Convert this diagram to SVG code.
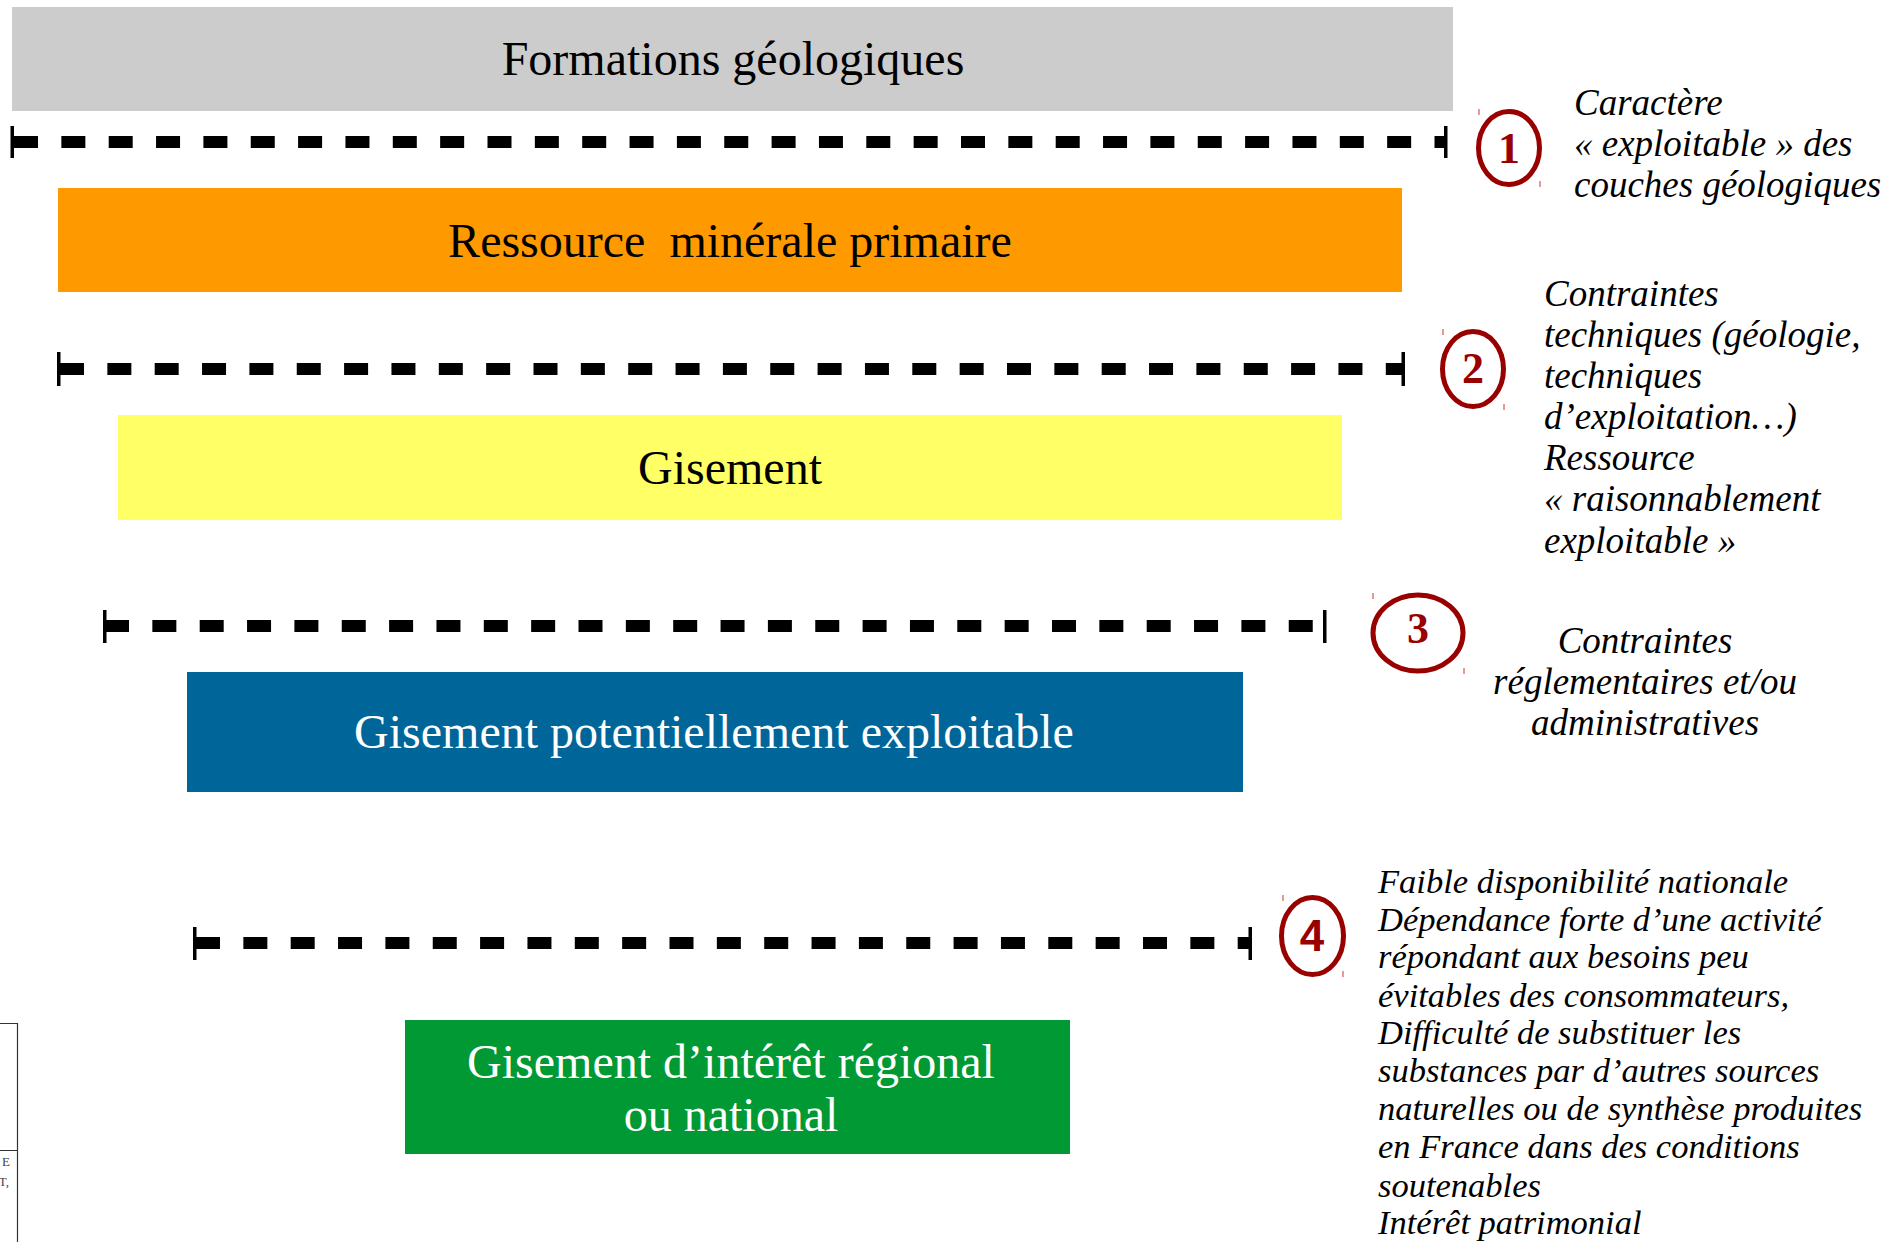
<svg xmlns="http://www.w3.org/2000/svg" width="1891" height="1242" viewBox="0 0 1891 1242">
<style>
.box-t{font-family:"Liberation Serif","Times New Roman",serif;font-size:48px;text-anchor:middle;white-space:pre}
.note{font-family:"Liberation Serif","Times New Roman",serif;font-style:italic;font-size:37px;fill:#000}
.note4{font-family:"Liberation Serif","Times New Roman",serif;font-style:italic;font-size:34.5px;fill:#000}
.ring{fill:none;stroke:#990000;stroke-width:5}
.num{font-family:"Liberation Serif","Times New Roman",serif;font-weight:bold;font-size:44px;fill:#990000;text-anchor:middle}
.mark{stroke:#cc3333;stroke-width:1}
.dash{stroke:#000;stroke-width:12;stroke-dasharray:24 23.35;fill:none}
.tick{fill:#000}
</style>
<rect width="1891" height="1242" fill="#fff"/>

<g id="formations">
<rect x="12" y="7" width="1441" height="104" fill="#cccccc"/>
<text class="box-t" x="733" y="75" fill="#000">Formations géologiques</text>
</g>

<g id="ressource">
<rect x="58" y="188" width="1344" height="104" fill="#ff9900"/>
<text class="box-t" x="730" y="257" fill="#000">Ressource  minérale primaire</text>
</g>

<g id="gisement">
<rect x="118" y="415" width="1224" height="105" fill="#ffff66"/>
<text class="box-t" x="730" y="484" fill="#000">Gisement</text>
</g>

<g id="gisement-potentiel">
<rect x="187" y="672" width="1056" height="120" fill="#006699"/>
<text class="box-t" x="714" y="748" fill="#fff">Gisement potentiellement exploitable</text>
</g>

<g id="gisement-interet">
<rect x="405" y="1020" width="665" height="134" fill="#009933"/>
<text class="box-t" x="731" y="1078" fill="#fff">Gisement d’intérêt régional</text>
<text class="box-t" x="731" y="1131" fill="#fff">ou national</text>
</g>

<g id="connectors">
<line class="dash" x1="14" y1="142" x2="1446" y2="142"/>
<rect class="tick" x="10.5" y="126" width="3.5" height="32"/>
<rect class="tick" x="1444" y="126" width="3.5" height="32"/>

<line class="dash" x1="60" y1="369" x2="1403" y2="369"/>
<rect class="tick" x="57" y="352" width="3.5" height="34"/>
<rect class="tick" x="1401.5" y="352" width="3.5" height="34"/>

<line class="dash" x1="105" y1="626" x2="1325" y2="626"/>
<rect class="tick" x="103" y="610" width="3.5" height="33"/>
<rect class="tick" x="1323" y="610" width="3.5" height="33"/>

<line class="dash" x1="196" y1="943" x2="1250" y2="943"/>
<rect class="tick" x="193" y="927" width="3.5" height="33"/>
<rect class="tick" x="1248.5" y="927" width="3.5" height="33"/>
</g>

<g id="step1">
<ellipse class="ring" cx="1509" cy="148" rx="30.5" ry="36.5"/>
<text class="num" x="1509" y="163">1</text>
<line class="mark" x1="1479" y1="109" x2="1479" y2="115"/>
<line class="mark" x1="1540" y1="181" x2="1540" y2="187"/>
<text class="note" x="1574" y="115">Caractère</text>
<text class="note" x="1574" y="156">« exploitable » des</text>
<text class="note" x="1574" y="197">couches géologiques</text>
</g>

<g id="step2">
<ellipse class="ring" cx="1473" cy="369" rx="30.5" ry="37.5"/>
<text class="num" x="1473" y="383">2</text>
<line class="mark" x1="1443" y1="329" x2="1443" y2="335"/>
<line class="mark" x1="1504" y1="404" x2="1504" y2="410"/>
<text class="note" x="1544" y="306">Contraintes</text>
<text class="note" x="1544" y="347">techniques (géologie,</text>
<text class="note" x="1544" y="388">techniques</text>
<text class="note" x="1544" y="429">d’exploitation…)</text>
<text class="note" x="1544" y="470">Ressource</text>
<text class="note" x="1544" y="511">« raisonnablement</text>
<text class="note" x="1544" y="553">exploitable »</text>
</g>

<g id="step3">
<ellipse class="ring" cx="1418" cy="633" rx="45" ry="38"/>
<text class="num" x="1418" y="643">3</text>
<line class="mark" x1="1373" y1="593" x2="1373" y2="599"/>
<line class="mark" x1="1464" y1="668" x2="1464" y2="674"/>
<text class="note" x="1645" y="653" text-anchor="middle">Contraintes</text>
<text class="note" x="1645" y="694" text-anchor="middle">réglementaires et/ou</text>
<text class="note" x="1645" y="735" text-anchor="middle">administratives</text>
</g>

<g id="step4">
<ellipse class="ring" cx="1312.5" cy="936" rx="31" ry="38.5"/>
<text class="num" x="1312" y="951" style="font-family:'Liberation Sans',Arial,sans-serif">4</text>
<line class="mark" x1="1283" y1="895" x2="1283" y2="901"/>
<line class="mark" x1="1343" y1="971" x2="1343" y2="977"/>
<text class="note4" x="1378" y="893">Faible disponibilité nationale</text>
<text class="note4" x="1378" y="931">Dépendance forte d’une activité</text>
<text class="note4" x="1378" y="968">répondant aux besoins peu</text>
<text class="note4" x="1378" y="1007">évitables des consommateurs,</text>
<text class="note4" x="1378" y="1044">Difficulté de substituer les</text>
<text class="note4" x="1378" y="1082">substances par d’autres sources</text>
<text class="note4" x="1378" y="1120">naturelles ou de synthèse produites</text>
<text class="note4" x="1378" y="1158">en France dans des conditions</text>
<text class="note4" x="1378" y="1197">soutenables</text>
<text class="note4" x="1378" y="1234">Intérêt patrimonial</text>
</g>

<g id="fragment">
<path d="M0 1023.5H17.5V1242M0 1150.5H17.5" fill="none" stroke="#333" stroke-width="1.2"/>
<text x="10" y="1166" text-anchor="end" font-family="Liberation Serif, serif" font-size="13" fill="#444">E</text>
<text x="9" y="1186" text-anchor="end" font-family="Liberation Serif, serif" font-size="13" fill="#444">T,</text>
</g>
</svg>
